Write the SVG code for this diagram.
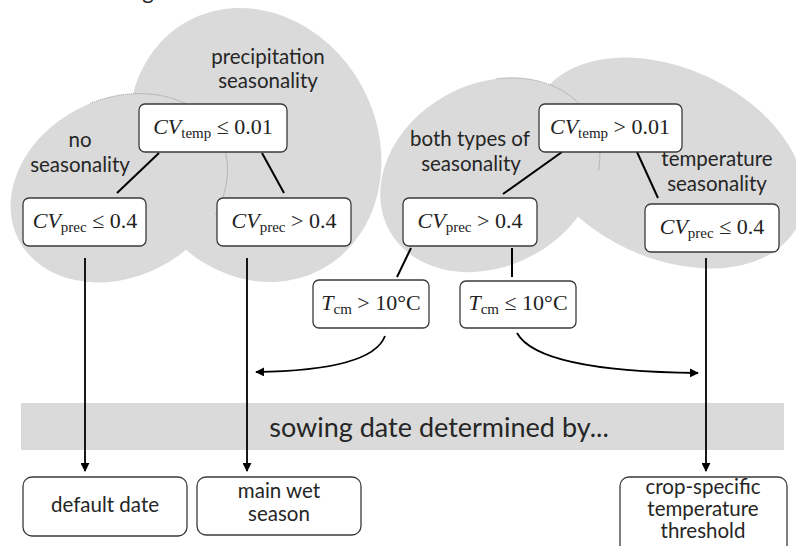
<svg xmlns="http://www.w3.org/2000/svg" width="796" height="546" viewBox="0 0 796 546">
<style>
.blob{fill:#dadada;stroke:none}
.seam{fill:none;stroke:#8a8a8a;stroke-width:0.8;stroke-dasharray:1 1}
.box{fill:#fff;stroke:#3a3a3a;stroke-width:1.3}
.lbl{font-family:Lato,"Open Sans",sans-serif;font-size:20.5px;fill:#262626;text-anchor:middle}
.math{font-family:"Liberation Serif","DejaVu Serif",serif;font-size:22px;fill:#222;text-anchor:middle}
.sub{font-size:15px}
.it{font-style:italic}
.edge{fill:none;stroke:#000;stroke-width:2}
.arr{fill:none;stroke:#000;stroke-width:1.8;marker-end:url(#ah)}
</style>
<defs>
<marker id="ah" viewBox="0 0 10 10" refX="9" refY="5" markerWidth="5" markerHeight="5" orient="auto" markerUnits="strokeWidth">
<path d="M0,0 L10,5 L0,10 z" fill="#000"/>
</marker>
<clipPath id="clipPrec"><ellipse cx="255" cy="145" rx="122" ry="141" transform="rotate(-28 255 145)"/></clipPath>
<clipPath id="clipTemp"><ellipse cx="668" cy="163" rx="144" ry="95" transform="rotate(25 668 163)"/></clipPath>
</defs>

<text class="lbl" x="148" y="-1" style="font-size:22px">g</text>

<g id="regions">
<ellipse class="blob" cx="255" cy="145" rx="122" ry="141" transform="rotate(-28 255 145)"/>
<ellipse class="blob" cx="119" cy="188" rx="113" ry="89" transform="rotate(-27 119 188)"/>
<ellipse class="seam" cx="119" cy="188" rx="113" ry="89" transform="rotate(-27 119 188)" clip-path="url(#clipPrec)"/>
<ellipse class="blob" cx="668" cy="163" rx="144" ry="95" transform="rotate(25 668 163)"/>
<ellipse class="blob" cx="490" cy="175" rx="115" ry="91" transform="rotate(-29 490 175)"/>
<ellipse class="seam" cx="490" cy="175" rx="115" ry="91" transform="rotate(-29 490 175)" clip-path="url(#clipTemp)"/>
<text class="lbl" x="268" y="64">precipitation</text>
<text class="lbl" x="268" y="88">seasonality</text>
<text class="lbl" x="80" y="147">no</text>
<text class="lbl" x="80" y="172">seasonality</text>
<text class="lbl" x="470" y="146">both types of</text>
<text class="lbl" x="471" y="171">seasonality</text>
<text class="lbl" x="717" y="166">temperature</text>
<text class="lbl" x="717" y="191">seasonality</text>
</g>

<g id="band">
<rect x="21" y="403" width="763" height="47" fill="#dadada"/>
<text class="lbl" x="439" y="437" style="font-size:27px">sowing date determined by...</text>
</g>

<g id="connectors">
<line class="edge" x1="159" y1="153" x2="117" y2="193"/>
<line class="edge" x1="262" y1="153" x2="284" y2="193"/>
<line class="edge" x1="562" y1="152" x2="503" y2="194"/>
<line class="edge" x1="637" y1="152" x2="658" y2="198"/>
<line class="edge" x1="411" y1="248" x2="397" y2="277"/>
<line class="edge" x1="512" y1="248" x2="512" y2="277"/>
<line class="arr" x1="85" y1="258" x2="85" y2="471"/>
<line class="arr" x1="247" y1="258" x2="247" y2="471"/>
<line class="arr" x1="706" y1="258" x2="706" y2="471"/>
<path class="arr" d="M385,336 C376,360 330,371 256,372"/>
<path class="arr" d="M517,333 C532,360 600,372 698,373"/>
</g>

<g id="n-cvtemp-le">
<rect class="box" x="139" y="104" width="148" height="48" rx="6"/>
<text class="math" x="213" y="134"><tspan class="it">CV</tspan><tspan class="sub" dy="4">temp</tspan><tspan dy="-4"> ≤ 0.01</tspan></text>
</g>
<g id="n-cvprec-le-left">
<rect class="box" x="23" y="198" width="123" height="48" rx="6"/>
<text class="math" x="85" y="228"><tspan class="it">CV</tspan><tspan class="sub" dy="4">prec</tspan><tspan dy="-4"> ≤ 0.4</tspan></text>
</g>
<g id="n-cvprec-gt-left">
<rect class="box" x="217" y="198" width="134" height="48" rx="6"/>
<text class="math" x="284" y="228"><tspan class="it">CV</tspan><tspan class="sub" dy="4">prec</tspan><tspan dy="-4"> &gt; 0.4</tspan></text>
</g>
<g id="n-cvtemp-gt">
<rect class="box" x="539" y="104" width="143" height="48" rx="6"/>
<text class="math" x="610" y="134"><tspan class="it">CV</tspan><tspan class="sub" dy="4">temp</tspan><tspan dy="-4"> &gt; 0.01</tspan></text>
</g>
<g id="n-cvprec-gt-right">
<rect class="box" x="403" y="198" width="134" height="48" rx="6"/>
<text class="math" x="470" y="228"><tspan class="it">CV</tspan><tspan class="sub" dy="4">prec</tspan><tspan dy="-4"> &gt; 0.4</tspan></text>
</g>
<g id="n-cvprec-le-right">
<rect class="box" x="645" y="204" width="134" height="48" rx="6"/>
<text class="math" x="712" y="234"><tspan class="it">CV</tspan><tspan class="sub" dy="4">prec</tspan><tspan dy="-4"> ≤ 0.4</tspan></text>
</g>
<g id="n-tcm-gt">
<rect class="box" x="313" y="280" width="116" height="48" rx="6"/>
<text class="math" x="371" y="310"><tspan class="it">T</tspan><tspan class="sub" dy="4">cm</tspan><tspan dy="-4"> &gt; 10°C</tspan></text>
</g>
<g id="n-tcm-le">
<rect class="box" x="460" y="281" width="116" height="47" rx="6"/>
<text class="math" x="518" y="310"><tspan class="it">T</tspan><tspan class="sub" dy="4">cm</tspan><tspan dy="-4"> ≤ 10°C</tspan></text>
</g>

<g id="o-default">
<rect class="box" x="23" y="477" width="164" height="59" rx="9"/>
<text class="lbl" x="105" y="512">default date</text>
</g>
<g id="o-wet">
<rect class="box" x="197" y="477" width="164" height="58" rx="9"/>
<text class="lbl" x="279" y="498">main wet</text>
<text class="lbl" x="279" y="521">season</text>
</g>
<g id="o-crop">
<rect class="box" x="620" y="477" width="167" height="80" rx="9"/>
<text class="lbl" x="703" y="494">crop-specific</text>
<text class="lbl" x="703" y="516">temperature</text>
<text class="lbl" x="703" y="538">threshold</text>
</g>
</svg>
